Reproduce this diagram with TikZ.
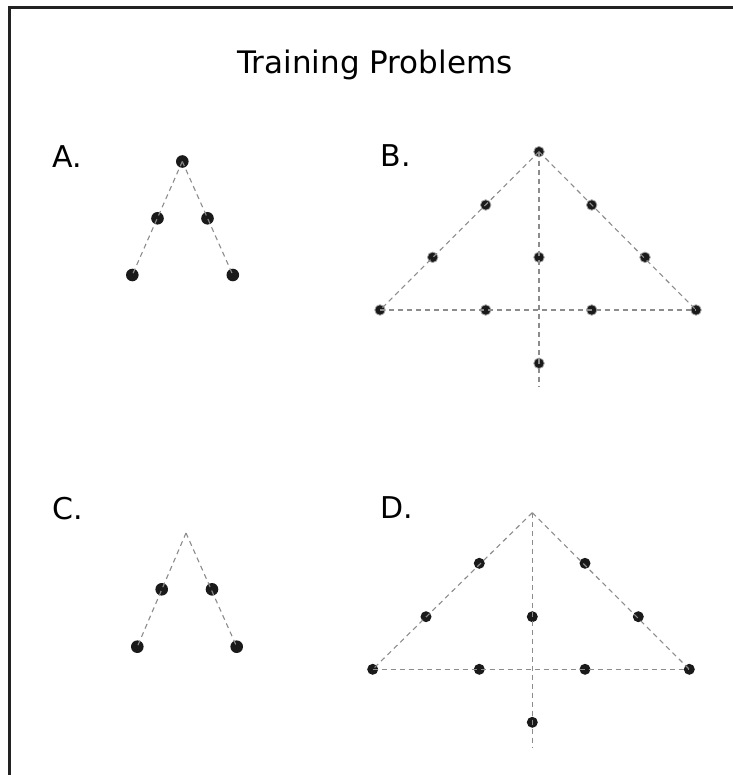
\documentclass[tikz,border=0pt]{standalone}
\usepackage{fontspec}
\setmainfont{DejaVu Sans}
\begin{document}
\begin{tikzpicture}[x=1pt,y=-1pt,
  dot/.style={circle,fill=dotblack,inner sep=0pt,minimum size=12.6pt},
  dotb/.style={circle,fill=dotblack,draw=gray!70,line width=0.8pt,inner sep=0pt,minimum size=10.5pt},
  dotd/.style={circle,fill=dotblack,inner sep=0pt,minimum size=11pt},
  guide/.style={draw=guidegray,line width=1.1pt,dash pattern=on 5pt off 4pt},
  lbl/.style={inner sep=0pt,anchor=base west,font=\fontsize{30}{36}\selectfont},
  frame/.style={draw=framegray,line width=3pt}]
\definecolor{dotblack}{HTML}{1A1A1A}
\definecolor{guidegray}{HTML}{8C8C8C}
\definecolor{framegray}{HTML}{222222}
\useasboundingbox (0,0) rectangle (732,775);
\fill[white] (0,0) rectangle (732,775);
% frame
\coordinate (fb) at (9.5,776);
\coordinate (fc) at (9.5,7.5);
\coordinate (fr) at (733,7.5);
\draw[frame] (fb) -- (fc) -- (fr);
% title and labels
\node[inner sep=0pt,anchor=base,font=\fontsize{31}{37}\selectfont] (title) at (375,73.5) {Training Problems};
\node[lbl] (la) at (52.5,168) {A.};
\node[lbl] (lb) at (380.5,167) {B.};
\node[lbl] (lc) at (52.5,519.5) {C.};
\node[lbl] (ld) at (380,518) {D.};
% A
\node[dot] (a1) at (182.3,161.5) {};
\node[dot] (a2) at (157.5,218.3) {};
\node[dot] (a3) at (207.5,218.3) {};
\node[dot] (a4) at (132.3,275) {};
\node[dot] (a5) at (232.8,275) {};
\draw[guide] (a1.center) -- (a4.center);
\draw[guide] (a1.center) -- (a5.center);
% B
\node[dotb] (b1) at (539,151.7) {};
\node[dotb] (b2) at (485.7,205) {};
\node[dotb] (b3) at (591.7,205) {};
\node[dotb] (b4) at (432.7,257.3) {};
\node[dotb] (b5) at (539,257.3) {};
\node[dotb] (b6) at (645,257.3) {};
\node[dotb] (b7) at (380,310) {};
\node[dotb] (b8) at (485.7,310) {};
\node[dotb] (b9) at (591.7,310) {};
\node[dotb] (b10) at (696,310) {};
\node[dotb] (b11) at (539,363.3) {};
\coordinate (bend) at (539,387);
\draw[guide] (b1.center) -- (b7.center);
\draw[guide] (b1.center) -- (b10.center);
\draw[guide] (b7.center) -- (b10.center);
\draw[guide] (b1.center) -- (bend);
% C
\coordinate (c1) at (186,533);
\node[dot] (c2) at (161.7,589.3) {};
\node[dot] (c3) at (212,589.3) {};
\node[dot] (c4) at (137.3,646.7) {};
\node[dot] (c5) at (236.7,646.7) {};
\draw[guide] (c1) -- (c4.center);
\draw[guide] (c1) -- (c5.center);
% D
\coordinate (d1) at (532.3,512.7);
\node[dotd] (d2) at (479.3,563.3) {};
\node[dotd] (d3) at (585,563.3) {};
\node[dotd] (d4) at (426,616.7) {};
\node[dotd] (d5) at (532.3,616.7) {};
\node[dotd] (d6) at (638.3,616.7) {};
\node[dotd] (d7) at (372.7,669.3) {};
\node[dotd] (d8) at (479.3,669.3) {};
\node[dotd] (d9) at (585,669.3) {};
\node[dotd] (d10) at (689.3,669.3) {};
\node[dotd] (d11) at (532.3,722.3) {};
\coordinate (dend) at (532.3,747);
\draw[guide] (d1) -- (d7.center);
\draw[guide] (d1) -- (d10.center);
\draw[guide] (d7.center) -- (d10.center);
\draw[guide] (d1) -- (dend);
\end{tikzpicture}
\end{document}
